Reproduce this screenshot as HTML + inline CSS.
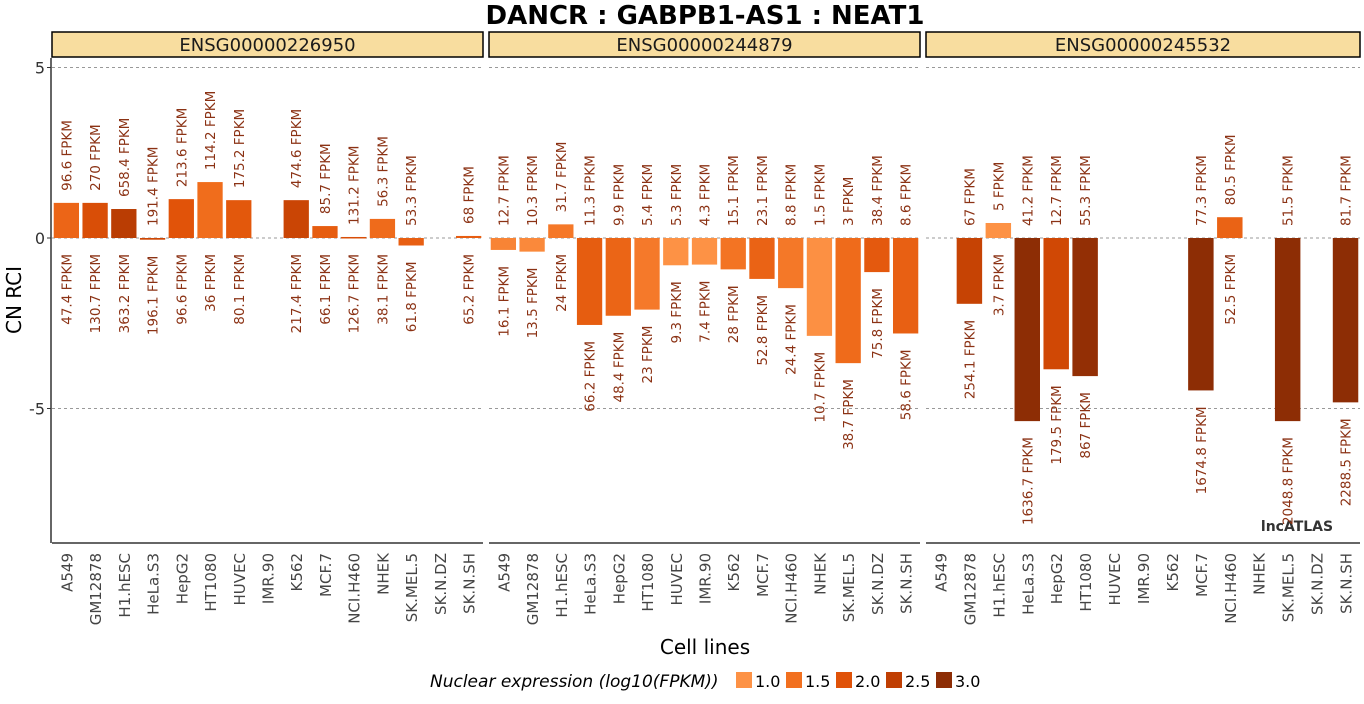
<!DOCTYPE html>
<html><head><meta charset="utf-8"><style>
body{margin:0;background:#fff;font-family:"DejaVu Sans","Liberation Sans",sans-serif}
</style></head><body>
<svg id="chart" width="1364" height="700" xmlns="http://www.w3.org/2000/svg" font-family="DejaVu Sans, Liberation Sans, sans-serif">
<text x="705" y="24" text-anchor="middle" font-size="26" font-weight="bold">DANCR : GABPB1-AS1 : NEAT1</text>
<text transform="translate(21,300) rotate(-90)" text-anchor="middle" font-size="20">CN RCI</text>
<text x="705" y="654" text-anchor="middle" font-size="20">Cell lines</text>
<text x="1297" y="531" text-anchor="middle" font-size="14" font-weight="bold" fill="#333">lncATLAS</text>
<g id="legend"></g>
<g id="plot"></g>
</svg>
<script>
const cells=["A549","GM12878","H1.hESC","HeLa.S3","HepG2","HT1080","HUVEC","IMR.90","K562","MCF.7","NCI.H460","NHEK","SK.MEL.5","SK.N.DZ","SK.N.SH"];
const facets=["ENSG00000226950","ENSG00000244879","ENSG00000245532"];
const rci1=[1.03,1.03,0.85,-0.05,1.14,1.64,1.11,null,1.11,0.35,0.03,0.56,-0.22,null,0.06];
const cyto1=["96.6","270","658.4","191.4","213.6","114.2","175.2",null,"474.6","85.7","131.2","56.3","53.3",null,"68"];
const nuc1=["47.4","130.7","363.2","196.1","96.6","36","80.1",null,"217.4","66.1","126.7","38.1","61.8",null,"65.2"];
const rci2=[-0.35,-0.4,0.4,-2.55,-2.28,-2.1,-0.8,-0.78,-0.92,-1.2,-1.47,-2.87,-3.67,-1.0,-2.8];
const cyto2=["12.7","10.3","31.7","11.3","9.9","5.4","5.3","4.3","15.1","23.1","8.8","1.5","3","38.4","8.6"];
const nuc2=["16.1","13.5","24","66.2","48.4","23","9.3","7.4","28","52.8","24.4","10.7","38.7","75.8","58.6"];
const rci3=[null,-1.93,0.44,-5.37,-3.85,-4.05,null,null,null,-4.47,0.61,null,-5.37,null,-4.82];
const cyto3=[null,"67","5","41.2","12.7","55.3",null,null,null,"77.3","80.5",null,"51.5",null,"81.7"];
const nuc3=[null,"254.1","3.7","1636.7","179.5","867",null,null,null,"1674.8","52.5",null,"2048.8",null,"2288.5"];
const yTicks=[5,0,-5];
const legendVals=[1.0,1.5,2.0,2.5,3.0];
const series=[[rci1,cyto1,nuc1],[rci2,cyto2,nuc2],[rci3,cyto3,nuc3]];

(function(){
 const NS="http://www.w3.org/2000/svg";
 const svg=document.getElementById('plot');
 function mk(t,a,p){const e=document.createElementNS(NS,t);for(const k in a)e.setAttribute(k,a[k]);(p||svg).appendChild(e);return e;}
 const panels=[[52,483],[489,920],[926,1360]];
 const plotTop=58,plotBottom=543;
 const y=v=>238-v*34.1;
 const stops=[[1.0,[253,146,69]],[1.5,[242,112,31]],[2.0,[224,82,8]],[2.5,[192,63,3]],[3.0,[141,45,5]]];
 const rgb=a=>`rgb(${a[0]},${a[1]},${a[2]})`;
 function col(l){if(l<=1)return rgb(stops[0][1]);if(l>=3)return rgb(stops[4][1]);
  for(let i=0;i<4;i++){if(l<=stops[i+1][0]){const t=(l-stops[i][0])/0.5;const a=stops[i][1],b=stops[i+1][1];return rgb(a.map((c,j)=>Math.round(c+(b[j]-c)*t)));}}}
 const ax=mk('g',{});
 
 
 mk('line',{x1:51,y1:plotTop,x2:51,y2:plotBottom,stroke:'#333','stroke-width':1.5},ax);
 yTicks.forEach(t=>{const tx=mk('text',{x:45,y:y(t)+6,'text-anchor':'end','font-size':16,fill:'#333'},ax);tx.textContent=t;
  
  
  mk('line',{x1:47,y1:y(t),x2:51,y2:y(t),stroke:'#333'},ax);});
 facets.forEach((f,fi)=>{
  const [x0,x1]=panels[fi];const n=cells.length;const bw=(x1-x0)/n;
  const g=mk('g',{});
  
  
  const st=mk('rect',{x:x0,y:32,width:x1-x0,height:25,fill:'#f8dd9f',stroke:'#000','stroke-width':1.5},g);
  
  
  const stt=mk('text',{x:(x0+x1)/2,y:51,'text-anchor':'middle','font-size':18,fill:'#1a1a1a'},g);stt.textContent=f;
  
  
  yTicks.forEach(t=>mk('line',{x1:x0,x2:x1,y1:y(t),y2:y(t),stroke:'#999','stroke-dasharray':'3,3'},g));
  mk('line',{x1:x0,y1:plotBottom,x2:x1,y2:plotBottom,stroke:'#333','stroke-width':1.5},g);
  const [r,c,nu]=series[fi];
  for(let i=0;i<n;i++){
   const cx=x0+bw*(i+0.5);
   const lab=mk('text',{transform:`translate(${cx+6},${plotBottom+10}) rotate(-90)`,'text-anchor':'end','font-size':15,fill:'#444'},g);
   lab.textContent=cells[i];
   
   
   const v=r[i]; if(v==null) continue;
   const w=bw*0.88;const ya=y(Math.max(0,v)),yb=y(Math.min(0,v));
   const b=mk('rect',{x:cx-w/2,y:ya,width:w,height:Math.max(1.5,yb-ya),fill:col(Math.log10(parseFloat(nu[i])))},g);
   
   
   const t1=mk('text',{transform:`translate(${cx+5},${ya-12}) rotate(-90)`,'text-anchor':'start','font-size':13.5,fill:'#8b3214'},g);
   t1.textContent=c[i]+" FPKM";
   
   
   const t2=mk('text',{transform:`translate(${cx+5},${yb+16}) rotate(-90)`,'text-anchor':'end','font-size':13.5,fill:'#8b3214'},g);
   t2.textContent=nu[i]+" FPKM";
   
   
  }
 });
 const lg=document.getElementById('legend');
 const lt=mk('text',{x:430,y:687,'font-size':17,'font-style':'italic',fill:'#000'},lg);lt.textContent="Nuclear expression (log10(FPKM))";
 
 
 legendVals.forEach((v,i)=>{const lx=736+i*50;
  const s=mk('rect',{x:lx,y:672,width:16,height:16,fill:col(v)},lg);
  
  
  const tx=mk('text',{x:lx+19,y:687,'font-size':16},lg);tx.textContent=v.toFixed(1);
  
  });
})();
</script>
</body></html>
